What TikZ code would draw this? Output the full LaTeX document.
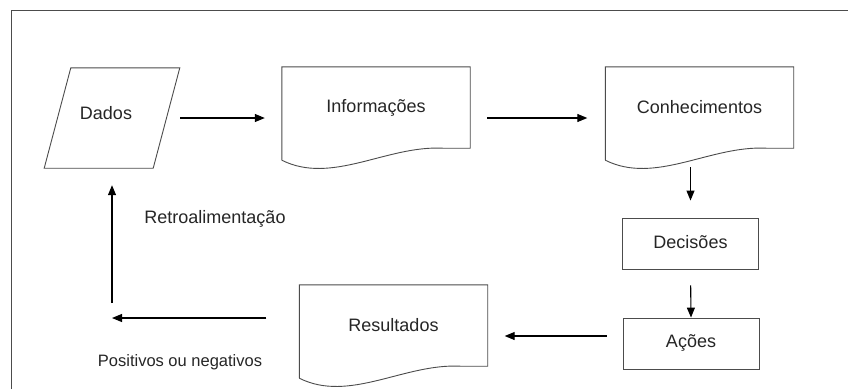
\documentclass[tikz,border=0pt]{standalone}
\usepackage{fontspec}
\setmainfont{Liberation Sans}
\usetikzlibrary{arrows.meta,calc}

\tikzset{
  outline/.style={draw=black!70, line width=0.9pt},
  holder/.style={inner sep=0pt, font=\fontsize{18}{21}\selectfont, text=black!85},
  docbox/.style={holder, minimum width=188pt, minimum height=81pt},
  procbox/.style={holder, outline, minimum width=136pt, minimum height=51pt, text depth=4pt},
  flow/.style={draw=black, line width=1.1pt, -{Triangle[length=10pt,width=8pt]}},
  note/.style={inner sep=0pt, text=black!85},
}

% document symbol with a wavy lower edge, drawn around node #1
\newcommand\docoutline[1]{%
  \draw[outline] ($(#1.south west)+(0,12)$) -- (#1.north west) -- (#1.north east)
    -- (#1.south east) -- ($(#1.south west)+(161,0)$)
    .. controls ($(#1.south west)+(105,-3)$) and ($(#1.south west)+(50,37)$)
    .. ($(#1.south west)+(0,12)$);}

\begin{document}
\begin{tikzpicture}[x=1pt,y=-1pt]
  \useasboundingbox (0,0) rectangle (848,389);
  \fill[white] (0,0) rectangle (848,389);

  % frame
  \draw[black!70, line width=1pt] (11,389) -- (11,10) -- (848,10);

  % data (parallelogram)
  \node[holder, minimum width=109pt, minimum height=100pt] (dados) at (112,118) {};
  \draw[outline] ($(dados.north west)+(13.5,0)$) -- ++(109,0)
     -- ($(dados.south east)+(-13.5,0)$) -- ++(-109,0) -- cycle;
  \node[holder] (dadoslbl) at (106,113) {Dados};

  % documents
  \node[docbox] (info) at (376,107.5) {Informações};
  \docoutline{info}
  \node[docbox] (conhec) at (699.5,107.5) {Conhecimentos};
  \docoutline{conhec}
  \node[docbox] (result) at (393.5,325.5) {Resultados};
  \docoutline{result}

  % processes
  \node[procbox] (dec) at (690.5,243.5) {Decisões};
  \node[procbox] (acoes) at (691,343.5) {Ações};

  % connector anchor points
  \coordinate (fb) at (112,318);
  \coordinate (acoesout) at ($(acoes.west)+(0,-7.5)$);

  % connectors
  \draw[flow, shorten <=13.5pt, shorten >=17pt] (dados.east) -- (dados.east -| info.west);
  \draw[flow, shorten <=17pt, shorten >=18pt] (dados.east -| info.east) -- (dados.east -| conhec.west);
  \draw[flow, shorten <=19pt, shorten >=17pt] (conhec.south -| dec.north) -- (dec.north);
  \draw[flow, shorten <=16pt] (dec.south) -- (acoes.north);
  \draw[flow, shorten <=16pt, shorten >=17pt] (acoesout) -- (acoesout -| result.east);
  \draw[flow, shorten <=33pt] (result.west |- fb) -- (fb);
  \draw[flow, shorten <=15pt, shorten >=17pt] (fb) -- (dados.south);

  % labels
  \node[note, font=\fontsize{18}{21}\selectfont] (retro) at (215,219) {Retroalimentação};
  \node[note, font=\fontsize{16.5}{19}\selectfont] (posneg) at (180,362) {Positivos ou negativos};
\end{tikzpicture}
\end{document}
